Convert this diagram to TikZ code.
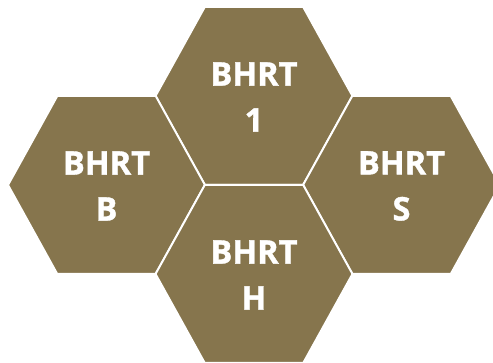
\documentclass[tikz,border=0pt]{standalone}
\usepackage{fontspec}
\setmainfont{Open Sans}
\newfontfamily\lblfont[BoldFeatures={FakeBold=1.2}]{Open Sans}
\definecolor{hexfill}{HTML}{86754D}
\tikzset{
  hexa/.pic={\path[fill=hexfill, draw=white, line width=2pt, line join=miter]
     (-98.5,0) -- (-49.25,-89) -- (49.25,-89) -- (98.5,0) -- (49.25,89) -- (-49.25,89) -- cycle;},
  lbl/.style={text=white, font=\lblfont\bfseries\fontsize{32.5}{46}\selectfont, align=center, inner sep=0pt}
}
\begin{document}
\begin{tikzpicture}[x=1pt,y=-1pt]
\useasboundingbox (0,0) rectangle (493,363);
\fill[white] (0,0) rectangle (493,363);
\pic at (254,96) {hexa};
\pic at (106.5,185) {hexa};
\pic at (401.5,185) {hexa};
\pic at (254,274) {hexa};
\node[lbl] (t1) at (254,97) {BHRT\\1};
\node[lbl] (tb) at (106.5,186) {BHRT\\B};
\node[lbl] (ts) at (401.5,186) {BHRT\\S};
\node[lbl] (th) at (254,275) {BHRT\\H};
\end{tikzpicture}
\end{document}
